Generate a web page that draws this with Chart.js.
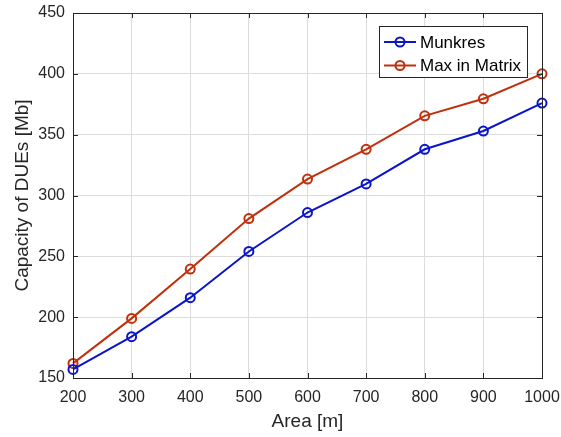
<!DOCTYPE html>
<html>
<head>
<meta charset="utf-8">
<script src="https://cdn.jsdelivr.net/npm/chart.js@4"></script>
<style>
html,body{margin:0;padding:0;background:#fff;}
#wrap{width:561px;height:437px;position:relative;}
</style>
</head>
<body>
<div id="wrap"><canvas id="c" width="561" height="437"></canvas></div>
<script>
const areas = [200, 300, 400, 500, 600, 700, 800, 900, 1000];
const munkres = [157, 184, 216, 254, 286, 309.5, 338, 353, 376];
const maxInMatrix = [162, 199, 239.5, 281, 313.5, 338, 365.5, 379.5, 400];
const xTicks = [200, 300, 400, 500, 600, 700, 800, 900, 1000];
const yTicks = [150, 200, 250, 300, 350, 400, 450];
const seriesNames = ['Munkres', 'Max in Matrix'];
const seriesColors = ['#0a14c8', '#c0300c'];

const FONT = 'Liberation Sans, Arial, Helvetica, sans-serif';
const AX = '#262626';

const frame = {
  id: 'frame',
  afterDatasetsDraw(chart) {
    const {ctx, chartArea: a, scales} = chart;
    ctx.save();
    ctx.strokeStyle = AX;
    ctx.lineWidth = 1;
    ctx.strokeRect(Math.round(a.left)+0.5, Math.round(a.top)+0.5, Math.round(a.right-a.left), Math.round(a.bottom-a.top));
    const L = 5;
    xTicks.forEach(v => {
      const x = Math.round(scales.x.getPixelForValue(v)) + 0.5;
      ctx.beginPath();
      ctx.moveTo(x, a.bottom); ctx.lineTo(x, a.bottom - L);
      ctx.moveTo(x, a.top); ctx.lineTo(x, a.top + L);
      ctx.stroke();
    });
    yTicks.forEach(v => {
      const y = Math.round(scales.y.getPixelForValue(v)) + 0.5;
      ctx.beginPath();
      ctx.moveTo(a.left, y); ctx.lineTo(a.left + L, y);
      ctx.moveTo(a.right, y); ctx.lineTo(a.right - L, y);
      ctx.stroke();
    });
    // legend
    const bx = 379.5, by = 26.5, bw = 148, bh = 51;
    ctx.fillStyle = '#fff';
    ctx.fillRect(bx, by, bw, bh);
    ctx.strokeStyle = AX;
    ctx.strokeRect(bx, by, bw, bh);
    ctx.font = '17px ' + FONT;
    ctx.textBaseline = 'middle';
    seriesNames.forEach((name, i) => {
      const y = 42 + i * 23.5;
      ctx.strokeStyle = seriesColors[i];
      ctx.lineWidth = 2;
      ctx.beginPath();
      ctx.moveTo(384, y); ctx.lineTo(416, y);
      ctx.stroke();
      ctx.beginPath();
      ctx.arc(400, y, 4.5, 0, Math.PI * 2);
      ctx.stroke();
      ctx.fillStyle = '#000';
      ctx.fillText(name, 420, y + 1);
    });
    ctx.restore();
  }
};

new Chart(document.getElementById('c'), {
  type: 'line',
  data: {
    datasets: seriesNames.map((n, i) => ({
      label: n,
      data: areas.map((x, j) => ({x, y: [munkres, maxInMatrix][i][j]})),
      borderColor: seriesColors[i],
      backgroundColor: 'rgba(0,0,0,0)',
      pointBackgroundColor: 'rgba(0,0,0,0)',
      pointBorderColor: seriesColors[i],
      pointRadius: 4.5,
      pointBorderWidth: 2,
      borderWidth: 2,
      tension: 0,
      clip: false
    }))
  },
  options: {
    responsive: false,
    animation: false,
    devicePixelRatio: 1,
    layout: {padding: {top: 13, right: 19, left: 0, bottom: 0}},
    plugins: {legend: {display: false}, tooltip: {enabled: false}},
    scales: {
      x: {
        type: 'linear', min: 200, max: 1000,
        afterBuildTicks: s => { s.ticks = xTicks.map(v => ({value: v})); },
        afterFit: s => { s.height = 59; s.paddingLeft = 0; s.paddingRight = 0; },
        grid: {color: '#dcdcdc', drawTicks: false, lineWidth: 1},
        border: {display: false},
        ticks: {color: AX, font: {family: FONT, size: 16}, padding: 10, maxRotation: 0, callback: v => String(v)},
        title: {display: true, text: 'Area [m]', color: AX, font: {family: FONT, size: 19}, padding: {top: 0, bottom: 4}}
      },
      y: {
        type: 'linear', min: 150, max: 450,
        afterBuildTicks: s => { s.ticks = yTicks.map(v => ({value: v})); },
        afterFit: s => { s.width = 73; s.paddingTop = 0; s.paddingBottom = 0; },
        grid: {color: '#dcdcdc', drawTicks: false, lineWidth: 1},
        border: {display: false},
        ticks: {color: AX, font: {family: FONT, size: 16}, padding: 8, callback: v => String(v)},
        title: {display: true, text: 'Capacity of DUEs [Mb]', color: AX, font: {family: FONT, size: 19}, padding: {top: 11, bottom: 0}}
      }
    }
  },
  plugins: [frame]
});
</script>
</body>
</html>
